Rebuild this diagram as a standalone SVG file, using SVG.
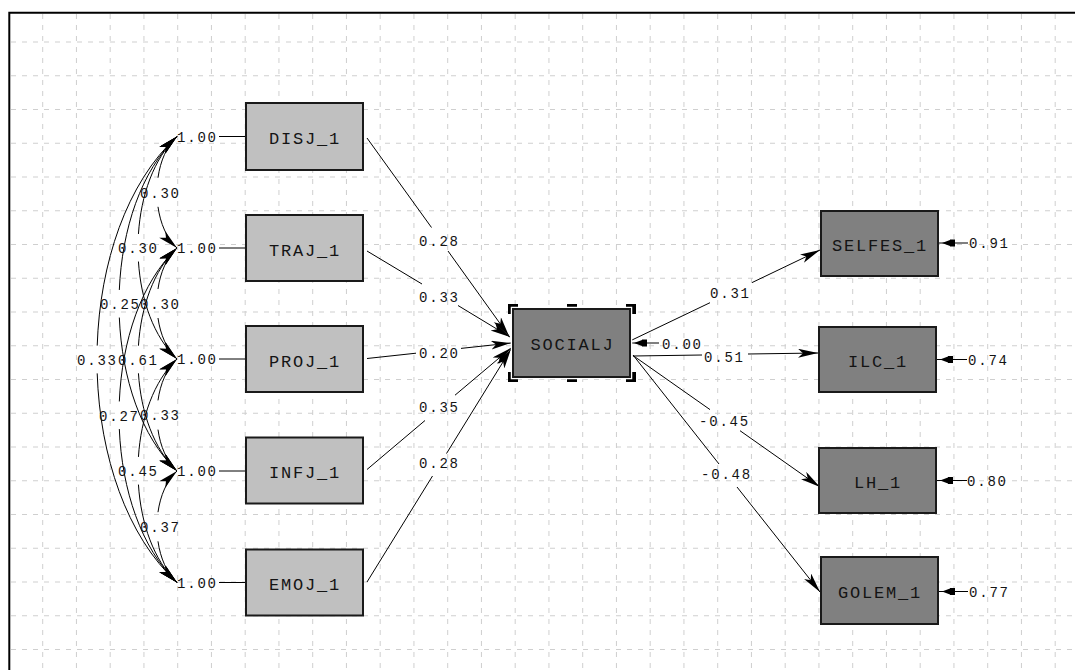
<svg xmlns="http://www.w3.org/2000/svg" width="1075" height="670" viewBox="0 0 1075 670">
<style>
.grid{stroke:#cfcfcf;stroke-width:1;stroke-dasharray:5 6;fill:none}
.lbox{fill:#c0c0c0;stroke:#1a1a1a;stroke-width:2}
.dbox{fill:#808080;stroke:#1a1a1a;stroke-width:2}
.name{font-family:"Liberation Mono",monospace;font-size:17px;letter-spacing:1.8px;text-anchor:middle;fill:#141414}
.num{font-family:"Liberation Mono",monospace;font-size:14px;letter-spacing:1.8px;fill:#141414}
.ln{stroke:#000;stroke-width:1;fill:none}
.arr{marker-end:url(#ah)}
.err{marker-end:url(#eh)}
.cov{stroke:#000;stroke-width:1;fill:none;marker-start:url(#ah);marker-end:url(#ah)}
.s1{stroke-dasharray:38 24 100}
.s2{stroke-dasharray:44.3 11.4 100}
.s3{stroke-dasharray:46.2 7.6 100}
.s4{stroke-dasharray:47.15 5.7 100}
</style>
<defs>
<marker id="ah" markerUnits="userSpaceOnUse" markerWidth="22" markerHeight="12" refX="20" refY="4.5" orient="auto-start-reverse">
<path d="M0,0 L20,4.5 L0,9 L5,4.5 Z" fill="#000"/>
</marker>
<marker id="eh" markerUnits="userSpaceOnUse" markerWidth="22" markerHeight="12" refX="16" refY="4" orient="auto">
<path d="M0,0.5 L5,0.5 L5,1 L13,4 L5,7 L5,7.5 L0,7.5 Z" fill="#000"/>
</marker>
</defs>
<rect width="1075" height="670" fill="#fff"/>
<g id="grid">
<path class="grid" d="M42.7,14V670M76.45,14V670M110.2,14V670M143.95,14V670M177.7,14V670M211.45,14V670M245.2,14V670M278.95,14V670M312.7,14V670M346.45,14V670M380.2,14V670M413.95,14V670M447.7,14V670M481.45,14V670M515.2,14V670M548.95,14V670M582.7,14V670M616.45,14V670M650.2,14V670M683.95,14V670M717.7,14V670M751.45,14V670M785.2,14V670M818.95,14V670M852.7,14V670M886.45,14V670M920.2,14V670M953.95,14V670M987.7,14V670M1021.45,14V670M1055.2,14V670"/>
<path class="grid" d="M11,42H1075M11,75.75H1075M11,109.5H1075M11,143.25H1075M11,177H1075M11,210.75H1075M11,244.5H1075M11,278.25H1075M11,312H1075M11,345.75H1075M11,379.5H1075M11,413.25H1075M11,447H1075M11,480.75H1075M11,514.5H1075M11,548.25H1075M11,582H1075M11,615.75H1075M11,649.5H1075"/>
</g>
<path d="M9.3,670 V12.7 H1075" fill="none" stroke="#000" stroke-width="2"/>
<g id="connectors">
<path class="cov s1" pathLength="100" d="M177,136.5 C150.3,161 150.3,223.5 177,248"/>
<path class="cov s1" pathLength="100" d="M177,248 C150.3,272.4 150.3,334.6 177,359"/>
<path class="cov s1" pathLength="100" d="M177,359 C150.3,383.6 150.3,446.4 177,471"/>
<path class="cov s1" pathLength="100" d="M177,471 C150.3,495.5 150.3,558 177,582.5"/>
<path class="cov s2" pathLength="100" d="M177,136.5 C125,185.5 125,310 177,359"/>
<path class="cov s2" pathLength="100" d="M177,248 C125,297 125,422 177,471"/>
<path class="cov s2" pathLength="100" d="M177,359 C125,408.2 125,533.3 177,582.5"/>
<path class="cov s3" pathLength="100" d="M177,136.5 C99.7,210.1 99.7,397.4 177,471"/>
<path class="cov s3" pathLength="100" d="M177,248 C99.7,321.6 99.7,508.9 177,582.5"/>
<path class="cov s4" pathLength="100" d="M177,136.5 C70.3,234.5 70.3,484.5 177,582.5"/>
<text class="num" x="140" y="197.5">0.30</text>
<text class="num" x="140" y="308.5">0.30</text>
<text class="num" x="140" y="420">0.33</text>
<text class="num" x="140" y="531.7">0.37</text>
<text class="num" x="118" y="253">0.30</text>
<text class="num" x="118" y="364.5">0.61</text>
<text class="num" x="118" y="476">0.45</text>
<text class="num" x="100" y="309">0.25</text>
<text class="num" x="99" y="420.5">0.27</text>
<text class="num" x="77" y="364.5">0.33</text>

<path class="ln" d="M367,138 L431.5,227.5"/>
<path class="ln arr" d="M448,251 L509,336"/>
<path class="ln" d="M367,251 L422,284"/>
<path class="ln arr" d="M458,305.5 L510,337"/>
<path class="ln" d="M367,358.5 L416,353.2"/>
<path class="ln arr" d="M461,348.4 L511,343"/>
<path class="ln" d="M367,469.5 L425,420.5"/>
<path class="ln arr" d="M455,395.2 L511,348"/>
<path class="ln" d="M367,582 L432.5,476"/>
<path class="ln arr" d="M446.5,453.5 L511,349"/>
<text class="num" x="419" y="245.7">0.28</text>
<text class="num" x="419" y="302">0.33</text>
<text class="num" x="419" y="358">0.20</text>
<text class="num" x="419" y="411.7">0.35</text>
<text class="num" x="419" y="468">0.28</text>

<path class="ln" d="M632,340 L710,302.7"/>
<path class="ln arr" d="M752,282.6 L820,250"/>
<path class="ln" d="M633,356 L702,355"/>
<path class="ln arr" d="M748,354 L818,353"/>
<path class="ln" d="M633,355.5 L710,409.6"/>
<path class="ln arr" d="M740,430.7 L820,487"/>
<path class="ln" d="M633,355 L719,464"/>
<path class="ln arr" d="M737,487 L820,592"/>
<text class="num" x="710" y="298">0.31</text>
<text class="num" x="704" y="361.5">0.51</text>
<text class="num" x="699" y="426">-0.45</text>
<text class="num" x="701" y="479">-0.48</text>

<path class="ln err" d="M659,343 L631,343"/>
<path class="ln err" d="M968,243 L939,243"/>
<path class="ln err" d="M967,359.5 L937,359.5"/>
<path class="ln err" d="M967,480.5 L937,480.5"/>
<path class="ln err" d="M968,591.5 L939,591.5"/>
<text class="num" x="662" y="349">0.00</text>
<text class="num" x="969" y="248">0.91</text>
<text class="num" x="968" y="364.5">0.74</text>
<text class="num" x="967" y="485.5">0.80</text>
<text class="num" x="969" y="596.5">0.77</text>
</g>
<g id="node-DISJ_1">
<text class="num" x="177" y="141.5">1.00</text>
<path class="ln" d="M219,136.5 H246"/>
<rect class="lbox" x="246" y="103" width="117" height="67"/>
<text class="name" x="305" y="144">DISJ_1</text>
</g>
<g id="node-TRAJ_1">
<text class="num" x="177" y="253">1.00</text>
<path class="ln" d="M219,248 H246"/>
<rect class="lbox" x="246" y="215" width="117" height="66"/>
<text class="name" x="305" y="255.5">TRAJ_1</text>
</g>
<g id="node-PROJ_1">
<text class="num" x="177" y="364">1.00</text>
<path class="ln" d="M219,359 H246"/>
<rect class="lbox" x="246" y="326" width="117" height="66"/>
<text class="name" x="305" y="366.5">PROJ_1</text>
</g>
<g id="node-INFJ_1">
<text class="num" x="177" y="476">1.00</text>
<path class="ln" d="M219,471 H246"/>
<rect class="lbox" x="246" y="437.5" width="117" height="66"/>
<text class="name" x="305" y="478">INFJ_1</text>
</g>
<g id="node-EMOJ_1">
<text class="num" x="177" y="587.5">1.00</text>
<path class="ln" d="M219,582.5 H246"/>
<rect class="lbox" x="246" y="549.5" width="117" height="66"/>
<text class="name" x="305" y="590">EMOJ_1</text>
</g>
<g id="node-SOCIALJ">
<g fill="#000">
<rect x="508" y="304" width="10" height="10"/>
<rect x="567" y="304" width="10" height="10"/>
<rect x="626" y="304" width="10" height="10"/>
<rect x="508" y="372" width="10" height="10"/>
<rect x="567" y="372" width="10" height="10"/>
<rect x="626" y="372" width="10" height="10"/>
</g>
<rect x="511.5" y="307.5" width="120" height="71" fill="none" stroke="#fff" stroke-width="1.5"/>
<rect class="dbox" x="513" y="309" width="117" height="68"/>
<text class="name" x="572.5" y="350">SOCIALJ</text>
</g>
<g id="node-SELFES_1">
<rect class="dbox" x="821" y="211" width="117" height="65"/>
<text class="name" x="880" y="250.5">SELFES_1</text>
</g>
<g id="node-ILC_1">
<rect class="dbox" x="819" y="327" width="117" height="65"/>
<text class="name" x="878" y="366.5">ILC_1</text>
</g>
<g id="node-LH_1">
<rect class="dbox" x="819" y="448" width="117" height="65"/>
<text class="name" x="878" y="487.5">LH_1</text>
</g>
<g id="node-GOLEM_1">
<rect class="dbox" x="821" y="557" width="117" height="67"/>
<text class="name" x="880" y="598">GOLEM_1</text>
</g>
</svg>
